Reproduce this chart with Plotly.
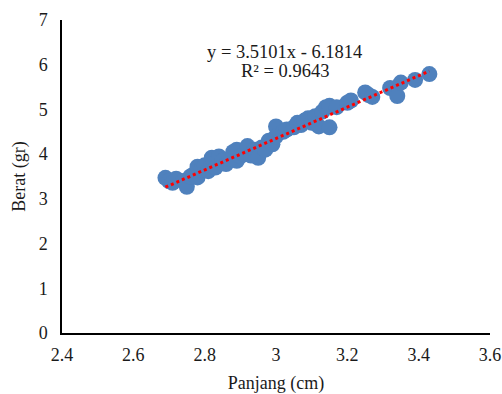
import numpy as np
import plotly.graph_objects as go

panjang = [2.69, 2.70, 2.71, 2.72, 2.74, 2.75, 2.76, 2.77, 2.78, 2.78, 2.79, 2.80, 2.81, 2.82,
           2.82, 2.83, 2.84, 2.85, 2.86, 2.87, 2.88, 2.89, 2.89, 2.90, 2.91, 2.92, 2.93, 2.94,
           2.95, 2.95, 2.96, 2.97, 2.98, 2.99, 3.00, 3.00, 3.02, 3.03, 3.05, 3.06, 3.07, 3.08,
           3.09, 3.10, 3.11, 3.12, 3.13, 3.14, 3.15, 3.15, 3.17, 3.20, 3.21, 3.25, 3.26, 3.27,
           3.32, 3.34, 3.35, 3.39, 3.43]
berat = [3.47, 3.40, 3.36, 3.45, 3.40, 3.27, 3.50, 3.55, 3.48, 3.72, 3.65, 3.75, 3.62, 3.80,
         3.92, 3.70, 3.95, 3.85, 3.78, 3.90, 4.05, 3.85, 4.10, 3.95, 4.00, 4.18, 3.97, 4.10,
         4.05, 3.92, 4.15, 4.10, 4.30, 4.22, 4.62, 4.40, 4.50, 4.55, 4.60, 4.70, 4.65, 4.75,
         4.80, 4.70, 4.85, 4.62, 4.95, 5.05, 4.60, 5.08, 5.05, 5.15, 5.20, 5.38, 5.32, 5.28,
         5.48, 5.30, 5.60, 5.66, 5.79]

slope = 3.5101
intercept = -6.1814
r2 = 0.9643

x_ticks = [2.4, 2.6, 2.8, 3.0, 3.2, 3.4, 3.6]
x_tick_labels = ["2.4", "2.6", "2.8", "3", "3.2", "3.4", "3.6"]
y_ticks = [0, 1, 2, 3, 4, 5, 6, 7]

xs = np.array(panjang)
trend_x = np.linspace(xs.min(), xs.max(), 50)
trend_y = slope * trend_x + intercept

font = "Liberation Serif, Times New Roman, serif"
ink = "#1a1a1a"

fig = go.Figure()
fig.add_trace(go.Scatter(
    x=panjang, y=berat, mode="markers",
    marker=dict(color="#4F81BD", size=16, line=dict(width=0)),
    showlegend=False, hoverinfo="x+y"))
fig.add_trace(go.Scatter(
    x=trend_x, y=trend_y, mode="lines",
    line=dict(color="#FF0000", width=3, dash="dot"),
    showlegend=False, hoverinfo="skip"))

fig.add_annotation(
    x=3.025, y=6.29, xref="x", yref="y",
    text=f"y = {slope}x - {abs(intercept)}",
    showarrow=False, font=dict(family=font, size=18.5, color=ink))
fig.add_annotation(
    x=3.025, y=5.85, xref="x", yref="y",
    text=f"R² = {r2}",
    showarrow=False, font=dict(family=font, size=18.5, color=ink))

fig.update_layout(
    width=502, height=394,
    margin=dict(l=62, r=12, t=20, b=61, autoexpand=False),
    paper_bgcolor="white", plot_bgcolor="white",
    font=dict(family=font, size=18, color=ink),
    xaxis=dict(
        range=[2.4, 3.6], tickvals=x_ticks, ticktext=x_tick_labels,
        showgrid=False, zeroline=False, showline=True, linecolor="#000000", linewidth=1.5,
        ticks="outside", ticklen=5, tickcolor="rgba(0,0,0,0)", automargin=True,
        title=dict(text="Panjang (cm)", standoff=13, font=dict(size=18)),
        tickfont=dict(size=18)),
    yaxis=dict(
        range=[0, 7], tickvals=y_ticks,
        showgrid=False, zeroline=False, showline=True, linecolor="#000000", linewidth=1.5,
        ticks="outside", ticklen=9, tickcolor="rgba(0,0,0,0)",
        title=dict(text="Berat (gr)", standoff=8, font=dict(size=18)),
        tickfont=dict(size=18)),
)

fig.write_html(
    "out.html",
    config={"displayModeBar": False},
    post_script="document.body.style.margin='0';document.body.style.overflow='hidden';")
